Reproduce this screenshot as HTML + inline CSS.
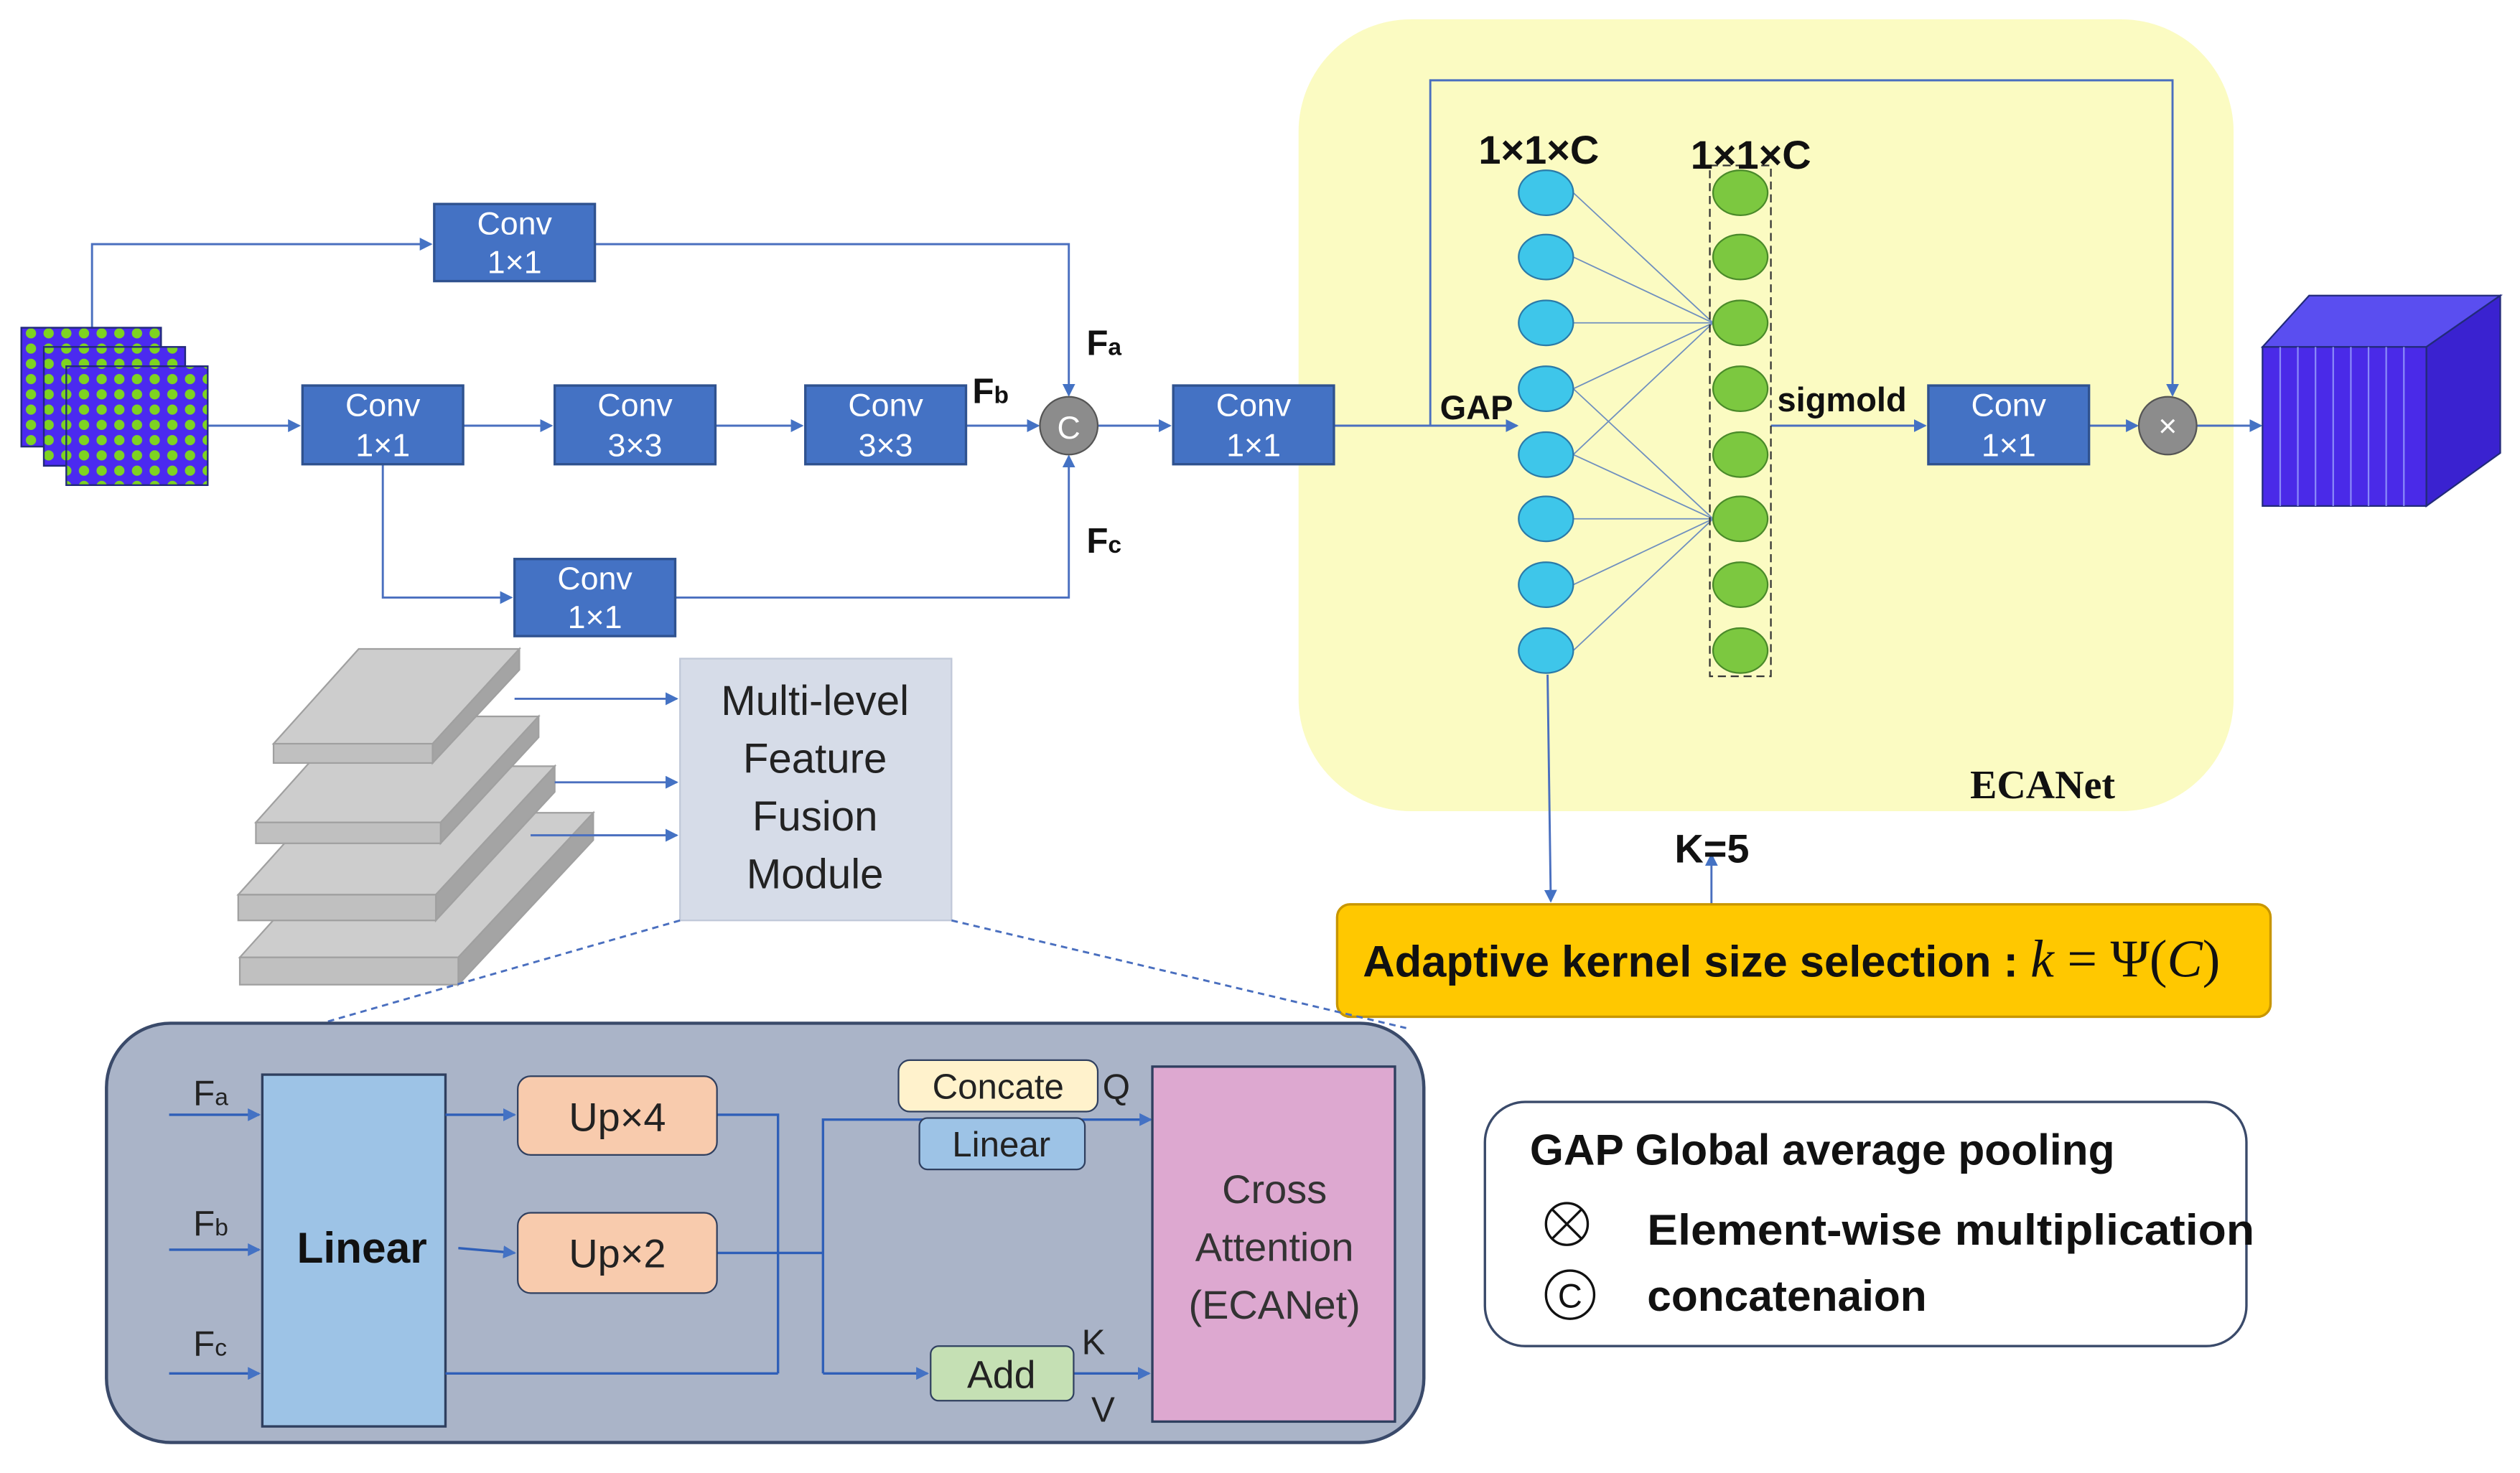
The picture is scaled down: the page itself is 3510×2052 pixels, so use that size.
<!DOCTYPE html>
<html><head><meta charset="utf-8"><style>html,body{margin:0;padding:0;background:#fff}svg{display:block}</style></head><body>
<svg width="3510" height="2052" viewBox="0 0 1568 917" xmlns="http://www.w3.org/2000/svg" font-family="Liberation Sans, sans-serif">
<defs>
<marker id="a" markerWidth="8" markerHeight="8" refX="7" refY="4" orient="auto" markerUnits="userSpaceOnUse"><path d="M0,0 L8,4 L0,8 z" fill="#4472c4"/></marker>
<pattern id="dots" width="11" height="9.5" patternUnits="userSpaceOnUse" x="3" y="3"><circle cx="5" cy="5" r="3.2" fill="#7ed321"/></pattern>
</defs>
<rect x="808" y="12" width="582" height="493" rx="70" fill="#fbfbc2"/>
<g stroke="#4a6fbf" stroke-width="1.3" fill="none">
<polyline points="57,204 57,152 268,152" marker-end="url(#a)"/>
<polyline points="370,152 665,152 665,246" marker-end="url(#a)"/>
<line x1="128" y1="265" x2="186" y2="265" marker-end="url(#a)"/>
<line x1="288" y1="265" x2="343" y2="265" marker-end="url(#a)"/>
<line x1="445" y1="265" x2="499" y2="265" marker-end="url(#a)"/>
<line x1="601" y1="265" x2="646" y2="265" marker-end="url(#a)"/>
<line x1="683" y1="265" x2="728" y2="265" marker-end="url(#a)"/>
<polyline points="238,289 238,372 318,372" marker-end="url(#a)"/>
<polyline points="420,372 665,372 665,284" marker-end="url(#a)"/>
<line x1="830" y1="265" x2="944" y2="265" marker-end="url(#a)"/>
<polyline points="890,265 890,50 1352,50 1352,246" marker-end="url(#a)"/>
<line x1="1102" y1="265" x2="1198" y2="265" marker-end="url(#a)"/>
<line x1="1300" y1="265" x2="1330" y2="265" marker-end="url(#a)"/>
<line x1="1367" y1="265" x2="1407" y2="265" marker-end="url(#a)"/>
<line x1="963" y1="420" x2="965" y2="561" marker-end="url(#a)"/>
<line x1="1065" y1="563" x2="1065" y2="532" marker-end="url(#a)"/>
</g>
<g stroke="#222a7a" stroke-width="1">
<rect x="13" y="204" width="87" height="74" fill="#4b2af0"/><rect x="13" y="204" width="87" height="74" fill="url(#dots)"/>
<rect x="27" y="216" width="88" height="74" fill="#4b2af0"/><rect x="27" y="216" width="88" height="74" fill="url(#dots)"/>
<rect x="41" y="228" width="88" height="74" fill="#4b2af0"/><rect x="41" y="228" width="88" height="74" fill="url(#dots)"/>
</g>
<g fill="#4472c4" stroke="#2f528f" stroke-width="1.5">
<rect x="270" y="127" width="100" height="48"/>
<rect x="188" y="240" width="100" height="49"/>
<rect x="345" y="240" width="100" height="49"/>
<rect x="501" y="240" width="100" height="49"/>
<rect x="320" y="348" width="100" height="48"/>
<rect x="730" y="240" width="100" height="49"/>
<rect x="1200" y="240" width="100" height="49"/>
</g>
<g fill="#fff" font-size="20" text-anchor="middle">
<text x="320" y="146">Conv</text><text x="320" y="170">1×1</text>
<text x="238" y="259">Conv</text><text x="238" y="284">1×1</text>
<text x="395" y="259">Conv</text><text x="395" y="284">3×3</text>
<text x="551" y="259">Conv</text><text x="551" y="284">3×3</text>
<text x="370" y="367">Conv</text><text x="370" y="391">1×1</text>
<text x="780" y="259">Conv</text><text x="780" y="284">1×1</text>
<text x="1250" y="259">Conv</text><text x="1250" y="284">1×1</text>
</g>
<circle cx="665" cy="265" r="18" fill="#8c8c8c" stroke="#555"/>
<text x="665" y="273" text-anchor="middle" font-size="20" fill="#fff">C</text>
<circle cx="1349" cy="265" r="18" fill="#8c8c8c" stroke="#555"/>
<text x="1349" y="272" text-anchor="middle" font-size="20" fill="#fff">×</text>
<g font-size="22" font-weight="bold" fill="#111">
<text x="676" y="221">F<tspan font-size="15">a</tspan></text>
<text x="605" y="251">F<tspan font-size="15">b</tspan></text>
<text x="676" y="344">F<tspan font-size="15">c</tspan></text>
</g>
<g stroke="#6f8fbf" stroke-width="0.8">
<line x1="979" y1="120" x2="1066" y2="201"/><line x1="979" y1="160" x2="1066" y2="201"/><line x1="979" y1="201" x2="1066" y2="201"/><line x1="979" y1="242" x2="1066" y2="201"/><line x1="979" y1="283" x2="1066" y2="201"/>
<line x1="979" y1="242" x2="1066" y2="323"/><line x1="979" y1="283" x2="1066" y2="323"/><line x1="979" y1="323" x2="1066" y2="323"/><line x1="979" y1="364" x2="1066" y2="323"/><line x1="979" y1="405" x2="1066" y2="323"/>
</g>
<rect x="1064" y="103" width="38" height="318" fill="none" stroke="#333" stroke-dasharray="5,3"/>
<g stroke="#2a7aa8" fill="#3ec6ea">
<ellipse cx="962" cy="120" rx="17" ry="14"/><ellipse cx="962" cy="160" rx="17" ry="14"/><ellipse cx="962" cy="201" rx="17" ry="14"/><ellipse cx="962" cy="242" rx="17" ry="14"/><ellipse cx="962" cy="283" rx="17" ry="14"/><ellipse cx="962" cy="323" rx="17" ry="14"/><ellipse cx="962" cy="364" rx="17" ry="14"/><ellipse cx="962" cy="405" rx="17" ry="14"/>
</g>
<g stroke="#4a8a2a" fill="#7cc840">
<ellipse cx="1083" cy="120" rx="17" ry="14"/><ellipse cx="1083" cy="160" rx="17" ry="14"/><ellipse cx="1083" cy="201" rx="17" ry="14"/><ellipse cx="1083" cy="242" rx="17" ry="14"/><ellipse cx="1083" cy="283" rx="17" ry="14"/><ellipse cx="1083" cy="323" rx="17" ry="14"/><ellipse cx="1083" cy="364" rx="17" ry="14"/><ellipse cx="1083" cy="405" rx="17" ry="14"/>
</g>
<g font-weight="bold" fill="#111">
<text x="920" y="102" font-size="25">1×1×C</text>
<text x="1052" y="105" font-size="25">1×1×C</text>
<text x="896" y="261" font-size="21">GAP</text>
<text x="1106" y="256" font-size="21">sigmold</text>
<text x="1226" y="497" font-size="25" font-family="Liberation Serif, serif">ECANet</text>
<text x="1042" y="537" font-size="25">K=5</text>
</g>
<polygon points="1408,216 1437,184 1556,184 1510,216" fill="#5a4ef0" stroke="#222a7a"/>
<polygon points="1510,216 1556,184 1556,282 1510,315" fill="#3a22d0" stroke="#222a7a"/>
<rect x="1408" y="216" width="102" height="99" fill="#4a2ae8" stroke="#222a7a"/>
<g stroke="#8a8af8" stroke-width="1">
<line x1="1419" y1="216" x2="1419" y2="315"/><line x1="1430" y1="216" x2="1430" y2="315"/><line x1="1441" y1="216" x2="1441" y2="315"/><line x1="1452" y1="216" x2="1452" y2="315"/><line x1="1463" y1="216" x2="1463" y2="315"/><line x1="1474" y1="216" x2="1474" y2="315"/><line x1="1485" y1="216" x2="1485" y2="315"/><line x1="1496" y1="216" x2="1496" y2="315"/>
</g>
<rect x="832" y="563" width="581" height="70" rx="8" fill="#ffc800" stroke="#c89600" stroke-width="1.5"/>
<text x="848" y="608" font-size="27.5" font-weight="bold" fill="#111">Adaptive kernel size selection : <tspan font-family="Liberation Serif, serif" font-style="italic" font-weight="normal" font-size="33">k</tspan><tspan font-family="Liberation Serif, serif" font-weight="normal" font-size="33"> = Ψ(</tspan><tspan font-family="Liberation Serif, serif" font-style="italic" font-weight="normal" font-size="33">C</tspan><tspan font-family="Liberation Serif, serif" font-weight="normal" font-size="33">)</tspan></text>
<g stroke="#a0a0a0" stroke-width="1">
<g><polygon points="149,596 230,506 369,506 285,596" fill="#cdcdcd"/><polygon points="285,596 369,506 369,523 285,613" fill="#a4a4a4"/><rect x="149" y="596" width="136" height="17" fill="#c0c0c0"/></g>
<g><polygon points="148,557 220,477 345,477 271,557" fill="#cdcdcd"/><polygon points="271,557 345,477 345,493 271,573" fill="#a4a4a4"/><rect x="148" y="557" width="123" height="16" fill="#c0c0c0"/></g>
<g><polygon points="159,512 218,446 335,446 274,512" fill="#cdcdcd"/><polygon points="274,512 335,446 335,459 274,525" fill="#a4a4a4"/><rect x="159" y="512" width="115" height="13" fill="#c0c0c0"/></g>
<g><polygon points="170,463 223,404 323,404 269,463" fill="#cdcdcd"/><polygon points="269,463 323,404 323,417 269,475" fill="#a4a4a4"/><rect x="170" y="463" width="99" height="12" fill="#c0c0c0"/></g>
</g>
<g stroke="#4a6fbf" stroke-width="1.3" fill="none">
<line x1="320" y1="435" x2="421" y2="435" marker-end="url(#a)"/>
<line x1="345" y1="487" x2="421" y2="487" marker-end="url(#a)"/>
<line x1="330" y1="520" x2="421" y2="520" marker-end="url(#a)"/>
</g>
<rect x="423" y="410" width="169" height="163" fill="#d6dce8" stroke="#c0c8d8"/>
<g font-size="26" text-anchor="middle" fill="#222">
<text x="507" y="445">Multi-level</text><text x="507" y="481">Feature</text><text x="507" y="517">Fusion</text><text x="507" y="553">Module</text>
</g>
<g stroke="#4a6fbf" stroke-width="1.3" stroke-dasharray="4,3"><line x1="423" y1="573" x2="200" y2="637"/><line x1="592" y1="573" x2="875" y2="640"/></g>
<rect x="66" y="637" width="820" height="261" rx="40" fill="#aab4c8" stroke="#3a4a6a" stroke-width="2"/>
<rect x="163" y="669" width="114" height="219" fill="#9dc3e6" stroke="#2f3f5f" stroke-width="1.5"/>
<text x="225" y="786" text-anchor="middle" font-size="27" font-weight="bold" fill="#111">Linear</text>
<g font-size="22" fill="#222">
<text x="120" y="688">F<tspan font-size="15">a</tspan></text>
<text x="120" y="769">F<tspan font-size="15">b</tspan></text>
<text x="120" y="844">F<tspan font-size="15">c</tspan></text>
</g>
<g stroke="#2f5fb8" stroke-width="1.5" fill="none">
<line x1="105" y1="694" x2="161" y2="694" marker-end="url(#a)"/>
<line x1="105" y1="778" x2="161" y2="778" marker-end="url(#a)"/>
<line x1="105" y1="855" x2="161" y2="855" marker-end="url(#a)"/>
<line x1="277" y1="694" x2="320" y2="694" marker-end="url(#a)"/>
<line x1="285" y1="777" x2="320" y2="780" marker-end="url(#a)"/>
<polyline points="277,855 484,855"/>
<polyline points="446,694 484,694 484,855"/>
<line x1="446" y1="780" x2="512" y2="780"/>
<polyline points="512,855 512,697 716,697" marker-end="url(#a)"/>
<line x1="512" y1="855" x2="577" y2="855" marker-end="url(#a)"/>
<line x1="668" y1="855" x2="715" y2="855" marker-end="url(#a)"/>
</g>
<rect x="322" y="670" width="124" height="49" rx="8" fill="#f8cbad" stroke="#2f3f5f"/>
<rect x="322" y="755" width="124" height="50" rx="8" fill="#f8cbad" stroke="#2f3f5f"/>
<text x="384" y="704" text-anchor="middle" font-size="25" fill="#222">Up×4</text>
<text x="384" y="789" text-anchor="middle" font-size="25" fill="#222">Up×2</text>
<rect x="572" y="696" width="103" height="32" rx="5" fill="#9dc3e6" stroke="#2f3f5f"/>
<text x="623" y="720" text-anchor="middle" font-size="22" fill="#222">Linear</text>
<rect x="559" y="660" width="124" height="32" rx="7" fill="#fff2cc" stroke="#2f3f5f"/>
<text x="621" y="684" text-anchor="middle" font-size="22" fill="#222">Concate</text>
<text x="686" y="684" font-size="22" fill="#222">Q</text>
<rect x="579" y="838" width="89" height="34" rx="5" fill="#c5e0b4" stroke="#2f3f5f"/>
<text x="623" y="864" text-anchor="middle" font-size="24" fill="#222">Add</text>
<text x="673" y="843" font-size="22" fill="#222">K</text>
<text x="679" y="885" font-size="22" fill="#222">V</text>
<rect x="717" y="664" width="151" height="221" fill="#dda8d0" stroke="#2f3f5f" stroke-width="1.5"/>
<g font-size="25" text-anchor="middle" fill="#333"><text x="793" y="749">Cross</text><text x="793" y="785">Attention</text><text x="793" y="821">(ECANet)</text></g>
<rect x="924" y="686" width="474" height="152" rx="25" fill="#fff" stroke="#3a4a6a" stroke-width="1.5"/>
<g font-size="27" font-weight="bold" fill="#111">
<text x="952" y="725">GAP  Global average pooling</text>
<text x="1025" y="775" textLength="378" lengthAdjust="spacingAndGlyphs">Element-wise multiplication</text>
<text x="1025" y="816">concatenaion</text>
</g>
<circle cx="975" cy="762" r="13" fill="none" stroke="#111" stroke-width="1.5"/>
<line x1="966" y1="753" x2="984" y2="771" stroke="#111" stroke-width="1.5"/><line x1="984" y1="753" x2="966" y2="771" stroke="#111" stroke-width="1.5"/>
<circle cx="977" cy="806" r="15" fill="none" stroke="#111" stroke-width="1.5"/>
<text x="977" y="814" text-anchor="middle" font-size="21" fill="#111">C</text>
</svg>
</body></html>
